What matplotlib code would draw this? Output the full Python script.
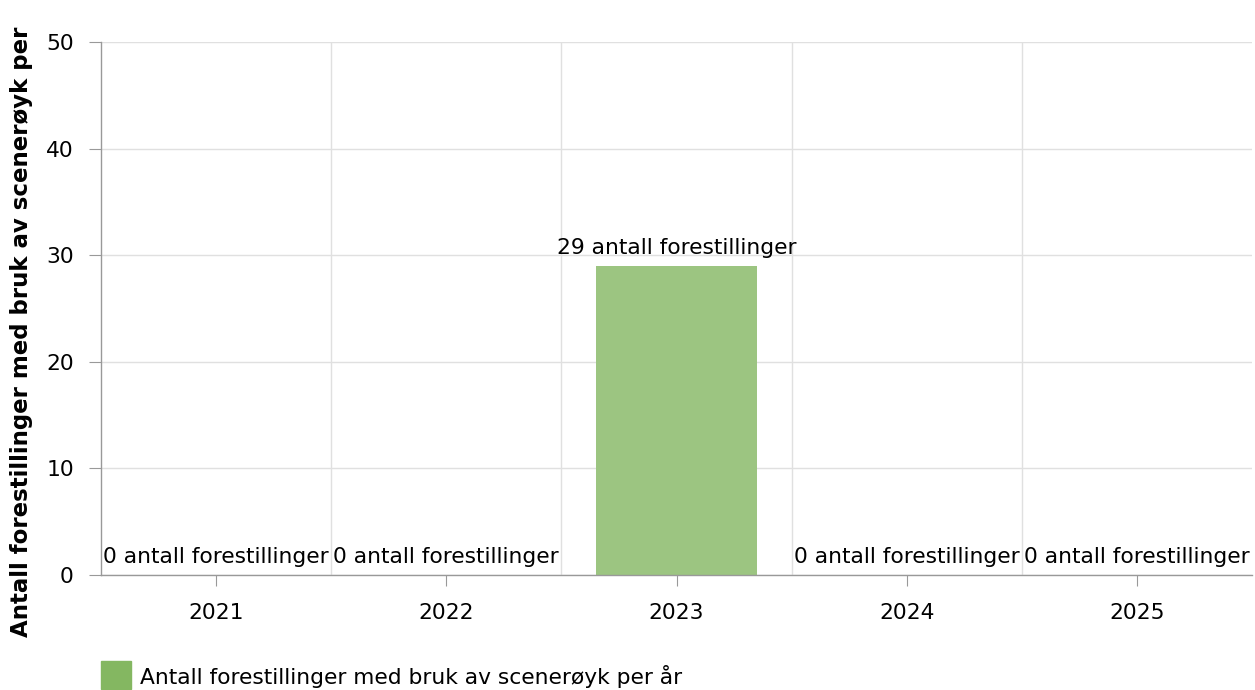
import matplotlib
matplotlib.use("Agg")
import matplotlib.pyplot as plt
import numpy as np
from matplotlib.patches import Rectangle

years = ["2021", "2022", "2023", "2024", "2025"]
values = [0, 0, 29, 0, 0]
label_suffix = "antall forestillinger"
y_ticks = [0, 10, 20, 30, 40, 50]
y_label = "Antall forestillinger med bruk av scenerøyk per"
legend_label = "Antall forestillinger med bruk av scenerøyk per år"

plt.rcParams['font.family'] = ['DejaVu Sans']
W, H = 1255, 690
fig = plt.figure(figsize=(W / 100, H / 100), dpi=100)
ax = fig.add_axes([101 / W, 1 - 575 / H, (1252 - 101) / W, (575 - 42) / H])

x = np.arange(len(years))
ax.bar(x, values, width=0.7, color="#9cc581", zorder=3)

ax.set_xlim(-0.5, len(years) - 0.5)
ax.set_ylim(0, 50)
ax.set_yticks(y_ticks)
ax.set_xticks(x)
ax.set_xticklabels(years)
ax.set_xticks(np.arange(len(years) - 1) + 0.5, minor=True)

fs = 15.7
ax.tick_params(axis="y", labelsize=fs, length=9, color="#999999", pad=10.5)
ax.tick_params(axis="x", labelsize=fs, length=8, color="#999999", pad=12)
ax.tick_params(axis="x", which="minor", length=0)

ax.grid(axis="y", color="#e0e0e0", linewidth=1, zorder=0)
ax.grid(axis="x", which="minor", color="#e0e0e0", linewidth=1, zorder=0)
ax.grid(axis="x", which="major", visible=False)

for s in ["top", "right"]:
    ax.spines[s].set_visible(False)
for s in ["left", "bottom"]:
    ax.spines[s].set_color("#999999")
    ax.spines[s].set_linewidth(1)
    ax.spines[s].set_zorder(4)

for xi, v in zip(x, values):
    ax.annotate(f"{v} {label_suffix}", (xi, v), xytext=(0, 6), textcoords="offset points",
                ha="center", va="bottom", fontsize=fs, color="#000000", zorder=5)

fig.text(22 / W, 1 - 637 / H, y_label, rotation=90, ha="center", va="bottom",
         fontsize=16.5, fontweight="bold")

fig.patches.append(Rectangle((101 / W, 1 - 689 / H), 30 / W, 28 / H,
                             transform=fig.transFigure, color="#84b761"))
fig.text(140 / W, 1 - 677 / H, legend_label, ha="left", va="center", fontsize=fs)

fig.savefig("out.png", dpi=100)
